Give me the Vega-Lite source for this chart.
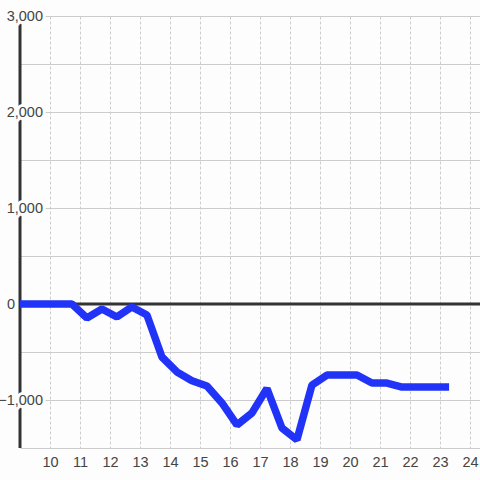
{
  "$schema": "https://vega.github.io/schema/vega-lite/v6.json",
  "width": 460,
  "height": 432,
  "autosize": {"type": "none"},
  "padding": {"left": 20, "top": 16, "right": 0, "bottom": 32},
  "background": "#fdfdfd",
  "config": {"view": {"stroke": null}, "font": "Liberation Sans",
    "axis": {"labelOverlap": false},
    "axisX": {"labelOverlap": false},
    "axisQuantitative": {"labelOverlap": false},
    "axisBottom": {"labelOverlap": false}},
  "data": {"values": [
    {"t": 9.0, "v": 0}, {"t": 9.73, "v": 0}, {"t": 10.23, "v": 0}, {"t": 10.73, "v": 0},
    {"t": 11.23, "v": -146}, {"t": 11.73, "v": -52}, {"t": 12.23, "v": -135}, {"t": 12.73, "v": -31},
    {"t": 13.23, "v": -115}, {"t": 13.73, "v": -552}, {"t": 14.23, "v": -708}, {"t": 14.73, "v": -800},
    {"t": 15.23, "v": -855}, {"t": 15.73, "v": -1031}, {"t": 16.23, "v": -1260}, {"t": 16.73, "v": -1135},
    {"t": 17.23, "v": -880}, {"t": 17.73, "v": -1292}, {"t": 18.23, "v": -1415}, {"t": 18.73, "v": -844},
    {"t": 19.23, "v": -740}, {"t": 19.73, "v": -740}, {"t": 20.23, "v": -740}, {"t": 20.73, "v": -823},
    {"t": 21.23, "v": -823}, {"t": 21.73, "v": -865}, {"t": 22.23, "v": -865}, {"t": 22.73, "v": -865},
    {"t": 23.3, "v": -865}
  ]},
  "layer": [
    {
      "data": {"values": [{"z": 0}]},
      "mark": {"type": "rule", "color": "#333333", "strokeWidth": 3},
      "encoding": {
        "y": {"field": "z", "type": "quantitative"},
        "x": {"datum": 9, "type": "quantitative"},
        "x2": {"datum": 24.33}
      }
    },
    {
      "data": {"values": [{"z": 0}]},
      "mark": {"type": "rule", "color": "#333333", "strokeWidth": 3},
      "encoding": {
        "x": {"datum": 9, "type": "quantitative"},
        "y": {"datum": -1500, "type": "quantitative"},
        "y2": {"datum": 3000}
      }
    },
    {
      "data": {"values": [{"lv": -1000}, {"lv": 1000}, {"lv": 2000}, {"lv": 3000}]},
      "mark": {"type": "text", "align": "right", "baseline": "middle", "dx": 23, "dy": 1, "fontSize": 14.5, "font": "Liberation Sans", "stroke": "#fdfdfd", "strokeWidth": 6, "strokeJoin": "round", "fill": "#fdfdfd"},
      "encoding": {
        "x": {"datum": 9, "type": "quantitative"},
        "y": {"field": "lv", "type": "quantitative"},
        "text": {"field": "lv", "type": "quantitative", "format": ","}
      }
    },
    {
      "data": {"values": [{"lv": -1000}, {"lv": 1000}, {"lv": 2000}, {"lv": 3000}]},
      "mark": {"type": "text", "align": "right", "baseline": "middle", "dx": 23, "dy": 1, "fontSize": 14.5, "font": "Liberation Sans", "color": "#444444"},
      "encoding": {
        "x": {"datum": 9, "type": "quantitative"},
        "y": {"field": "lv", "type": "quantitative"},
        "text": {"field": "lv", "type": "quantitative", "format": ","}
      }
    },
    {
      "data": {"values": [{"lv": 0}]},
      "mark": {"type": "text", "align": "right", "baseline": "middle", "dx": -5, "dy": 1, "fontSize": 14.5, "font": "Liberation Sans", "color": "#444444"},
      "encoding": {
        "x": {"datum": 9, "type": "quantitative"},
        "y": {"field": "lv", "type": "quantitative"},
        "text": {"field": "lv", "type": "quantitative", "format": ","}
      }
    },
    {
      "mark": {"type": "line", "color": "#2233f8", "strokeWidth": 7.5, "strokeJoin": "bevel", "clip": true},
      "encoding": {
        "x": {"field": "t", "type": "quantitative",
          "scale": {"domain": [9, 24.33], "nice": false, "zero": false},
          "axis": {"values": [10, 11, 12, 13, 14, 15, 16, 17, 18, 19, 20, 21, 22, 23, 24], "tickCount": 15, "labelOverlap": false, "labelSeparation": -10, "ticks": false, "domain": false, "title": null, "grid": true, "gridColor": "#cccccc", "gridDash": [3, 2], "gridWidth": 1, "labelFontSize": 14.5, "labelColor": "#444444", "labelPadding": 7, "labelFont": "Liberation Sans"}},
        "y": {"field": "v", "type": "quantitative",
          "scale": {"domain": [-1500, 3000], "nice": false, "zero": false},
          "axis": {"values": [-1500, -1000, -500, 0, 500, 1000, 1500, 2000, 2500, 3000], "labels": false, "ticks": false, "domain": false, "title": null, "grid": true, "gridColor": "#cccccc", "gridWidth": 1}}
      }
    }
  ]
}
